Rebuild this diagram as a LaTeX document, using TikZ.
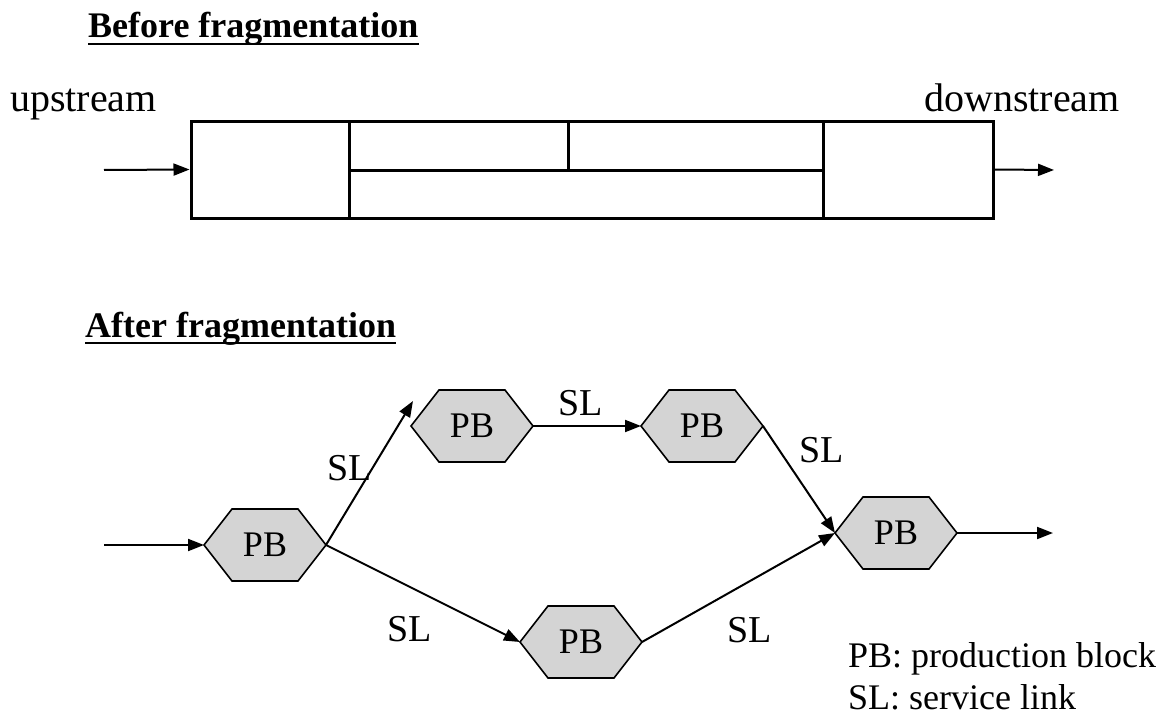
\documentclass[tikz,border=0pt]{standalone}
\usepackage{fontspec}
\setmainfont{Liberation Serif}
\usetikzlibrary{arrows.meta,calc}
\definecolor{hexgray}{RGB}{212,212,212}
\newcommand{\hexnode}[3]{%
  \draw[hexfill] (#2-61,#3) -- (#2-33,#3-36) -- (#2+33,#3-36) -- (#2+61,#3) -- (#2+33,#3+36) -- (#2-33,#3+36) -- cycle;
  \node[pb] (#1) at (#2,#3) {PB};}
\begin{document}
\begin{tikzpicture}[x=1pt,y=-1pt,
  boxline/.style={line width=3pt,line cap=rect},
  conn/.style={line width=2pt,-{Triangle[length=16pt,width=12pt]}},
  hexfill/.style={fill=hexgray,draw=black,line width=1.6pt,line join=miter},
  pb/.style={minimum width=122pt,minimum height=72pt,inner sep=0pt,outer sep=0pt,font=\fontsize{36}{40}\selectfont},
  lbl/.style={font=\fontsize{38}{44}\selectfont,inner sep=0pt},
  side/.style={font=\fontsize{40}{46}\selectfont,inner sep=0pt},
  legend/.style={font=\fontsize{36}{42}\selectfont,inner sep=0pt,anchor=base west},
  ttl/.style={font=\fontsize{36}{42}\selectfont\bfseries,inner sep=0pt,anchor=base west},
  ul/.style={line width=2.5pt}
]
\useasboundingbox (0,0) rectangle (1173,717);

% ---- Before fragmentation ----
\node[ttl] (t1) at (88,38) {Before fragmentation};
\draw[ul] ([yshift=-6pt]t1.base west) -- ([yshift=-6pt]t1.base east);

\node[side,anchor=base west] (up) at (10,111) {upstream};
\node[side,anchor=base east] (down) at (1120,111) {downstream};

\node[draw,line width=3pt,minimum width=802pt,minimum height=97pt,inner sep=0pt] (box) at (592,169.5) {};
\draw[boxline] (349,121) -- (349,218);
\draw[boxline] (823,121) -- (823,218);
\draw[boxline] (349,170) -- (823,170);
\draw[boxline] (568,121) -- (568,170);

\coordinate (in1) at (104,170);
\coordinate (out1) at (1054,170);
\draw[conn] (in1) -- (box.west);
\draw[conn] (box.east) -- (out1);

% ---- After fragmentation ----
\node[ttl] (t2) at (85,337) {After fragmentation};
\draw[ul] ([yshift=-6pt]t2.base west) -- ([yshift=-6pt]t2.base east);

\hexnode{pb1}{265}{545}
\hexnode{pb2}{472}{426}
\hexnode{pb3}{702}{426}
\hexnode{pb4}{581}{642}
\hexnode{pb5}{896}{533}

\coordinate (in2) at (104,545);
\coordinate (out2) at (1053,533);
\draw[conn] (in2) -- (pb1.west);
\draw[conn] (pb1.east) -- ([shift={(2,-25)}]pb2.west);
\draw[conn] (pb2.east) -- (pb3.west);
\draw[conn] (pb3.east) -- (pb5.west);
\draw[conn] (pb1.east) -- (pb4.west);
\draw[conn] (pb4.east) -- (pb5.west);
\draw[conn] (pb5.east) -- (out2);

\node[lbl] (sl1) at (350,468) {SL};
\node[lbl] (sl2) at (581,403) {SL};
\node[lbl] (sl3) at (822,450) {SL};
\node[lbl] (sl4) at (410,629) {SL};
\node[lbl] (sl5) at (750,630) {SL};

\node[legend] (lg1) at (848,667) {PB: production block};
\node[legend] (lg2) at (848,709) {SL: service link};
\end{tikzpicture}
\end{document}
